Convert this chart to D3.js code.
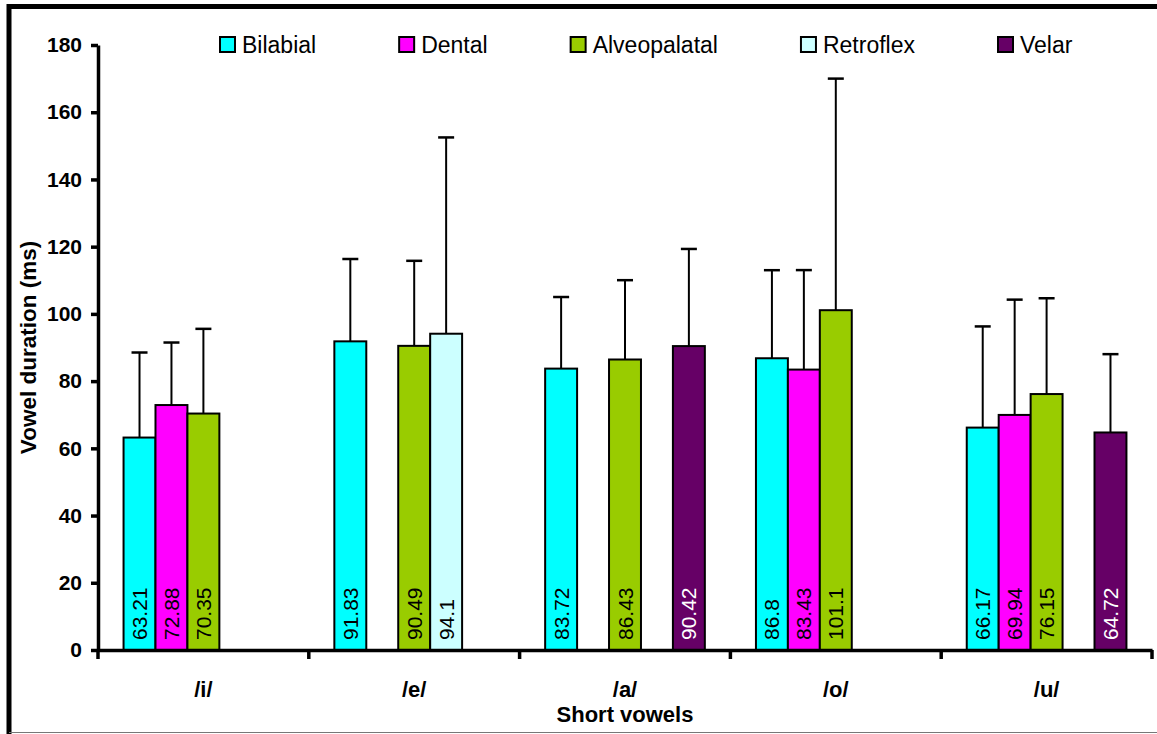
<!DOCTYPE html>
<html>
<head>
<meta charset="utf-8">
<script src="https://cdn.jsdelivr.net/npm/d3@7"></script>
<style>
	body { margin: 0; background: #fff; }
	svg text { font-family: Arial, "Liberation Sans", sans-serif; }
</style>
</head>
<body>
<div id="chart"></div>
<script>
// categories and series
var vowels = ["/i/", "/e/", "/a/", "/o/", "/u/"];
var places = ["Bilabial", "Dental", "Alveopalatal", "Retroflex", "Velar"];
var placeColors = ["#00FFFF", "#FF00FF", "#99CC00", "#CCFFFF", "#660066"];
var labelColors = ["#000", "#000", "#000", "#000", "#fff"];

// mean durations (null = no bar)
var bilabial     = [63.21, 91.83, 83.72, 86.8, 66.17];
var dental       = [72.88, null, null, 83.43, 69.94];
var alveopalatal = [70.35, 90.49, 86.43, 101.1, 76.15];
var retroflex    = [null, 94.1, null, null, null];
var velar        = [null, null, 90.42, null, 64.72];

// standard deviations (upper error bars)
var bilabialSD     = [25.3, 24.5, 21.3, 26.2, 30.1];
var dentalSD       = [18.6, null, null, 29.6, 34.3];
var alveopalatalSD = [25.2, 25.3, 23.6, 68.9, 28.5];
var retroflexSD    = [null, 58.4, null, null, null];
var velarSD        = [null, null, 28.9, null, 23.3];

var yTicks = [0, 20, 40, 60, 80, 100, 120, 140, 160, 180];

var means = [bilabial, dental, alveopalatal, retroflex, velar];
var sds = [bilabialSD, dentalSD, alveopalatalSD, retroflexSD, velarSD];

var width = 1157, height = 734;
var plotLeft = 98, plotRight = 1152, plotTop = 45, plotBottom = 650;

var svg = d3.select("#chart").append("svg")
	.attr("width", width)
	.attr("height", height);

// outer frame
svg.append("rect").attr("x", 0).attr("y", 0).attr("width", width).attr("height", height).attr("fill", "#fff");
svg.append("line").attr("x1", 9).attr("x2", width).attr("y1", 6.5).attr("y2", 6.5)
	.attr("stroke", "#000").attr("stroke-width", 5);
svg.append("line").attr("x1", 9).attr("x2", 9).attr("y1", 4).attr("y2", height)
	.attr("stroke", "#000").attr("stroke-width", 5);
svg.append("line").attr("x1", 9).attr("x2", width).attr("y1", 732.5).attr("y2", 732.5)
	.attr("stroke", "#777").attr("stroke-width", 1);

var x0 = d3.scaleBand().domain(vowels).range([plotLeft, plotRight]).padding(0);
var x1 = d3.scaleBand().domain(places).range([0, x0.bandwidth()]).paddingInner(0).paddingOuter(0.8);
var y = d3.scaleLinear().domain([0, 180]).range([plotBottom, plotTop]);

// flatten to bar records
var bars = [];
vowels.forEach(function(v, i){
	places.forEach(function(p, j){
		if(means[j][i] != null){
			bars.push({vowel: v, place: p, idx: j, value: means[j][i], sd: sds[j][i]});
		}
	});
});

function barX(d){ return x0(d.vowel) + x1(d.place); }
function barMid(d){ return barX(d) + x1.bandwidth()/2; }

var g = svg.append("g");

// error bars
var err = g.selectAll(".err").data(bars).enter().append("g").attr("class", "err");
err.append("line")
	.attr("x1", barMid).attr("x2", barMid)
	.attr("y1", function(d){ return y(d.value); })
	.attr("y2", function(d){ return y(d.value + d.sd); })
	.attr("stroke", "#000").attr("stroke-width", 2);
err.append("line")
	.attr("x1", function(d){ return barMid(d) - 8; })
	.attr("x2", function(d){ return barMid(d) + 8; })
	.attr("y1", function(d){ return y(d.value + d.sd); })
	.attr("y2", function(d){ return y(d.value + d.sd); })
	.attr("stroke", "#000").attr("stroke-width", 2.5);

// bars
g.selectAll(".bar").data(bars).enter().append("rect")
	.attr("class", "bar")
	.attr("x", barX)
	.attr("y", function(d){ return y(d.value); })
	.attr("width", x1.bandwidth())
	.attr("height", function(d){ return y(0) - y(d.value); })
	.attr("fill", function(d){ return placeColors[d.idx]; })
	.attr("stroke", "#000").attr("stroke-width", 2);

// value labels
g.selectAll(".val").data(bars).enter().append("text")
	.attr("class", "val")
	.attr("transform", function(d){
		return "translate(" + barMid(d) + "," + (plotBottom - 10) + ") rotate(-90)";
	})
	.attr("dy", "0.36em")
	.attr("font-size", "21px")
	.attr("fill", function(d){ return labelColors[d.idx]; })
	.text(function(d){ return d.value; });

// y axis
var yAxis = svg.append("g")
	.attr("transform", "translate(" + plotLeft + ",0)")
	.call(d3.axisLeft(y).tickValues(yTicks).tickSize(7).tickSizeOuter(0).tickPadding(9));
yAxis.select(".domain").attr("stroke", "#000").attr("stroke-width", 3.5);
yAxis.selectAll(".tick line").attr("stroke", "#000").attr("stroke-width", 3.5);
yAxis.selectAll(".tick text").attr("font-size", "21px").attr("font-weight", "bold")
	.attr("font-family", "Arial, 'Liberation Sans', sans-serif").attr("fill", "#000");

// x axis
var xAxis = svg.append("g")
	.attr("transform", "translate(0," + plotBottom + ")")
	.call(d3.axisBottom(x0).tickSize(0).tickSizeOuter(0).tickPadding(31));
xAxis.select(".domain").attr("stroke", "#000").attr("stroke-width", 3.5);
xAxis.selectAll(".tick text").attr("font-size", "22px").attr("font-weight", "bold")
	.attr("font-family", "Arial, 'Liberation Sans', sans-serif").attr("fill", "#000");

// category boundary ticks
var bounds = vowels.map(function(v){ return x0(v); }).concat([plotRight]);
svg.selectAll(".xtick").data(bounds).enter().append("line")
	.attr("x1", function(d){ return d; }).attr("x2", function(d){ return d; })
	.attr("y1", plotBottom).attr("y2", plotBottom + 9)
	.attr("stroke", "#000").attr("stroke-width", 3.5);

// axis titles
svg.append("text")
	.attr("x", (plotLeft + plotRight)/2).attr("y", 722)
	.attr("text-anchor", "middle")
	.attr("font-size", "22px").attr("font-weight", "bold")
	.text("Short vowels");
svg.append("text")
	.attr("transform", "translate(36," + ((plotTop + plotBottom)/2) + ") rotate(-90)")
	.attr("text-anchor", "middle")
	.attr("font-size", "22.5px").attr("font-weight", "bold")
	.text("Vowel duration (ms)");

// legend
var lx = 220;
places.forEach(function(p, i){
	var item = svg.append("g").attr("transform", "translate(" + lx + ",37)");
	item.append("rect").attr("x", 0).attr("y", 0).attr("width", 15).attr("height", 15)
		.attr("fill", placeColors[i]).attr("stroke", "#000").attr("stroke-width", 2);
	var t = item.append("text").attr("x", 22).attr("y", 15.5)
		.attr("font-size", "23px").text(p);
	lx += 22 + t.node().getComputedTextLength() + 83;
});
</script>
</body>
</html>
